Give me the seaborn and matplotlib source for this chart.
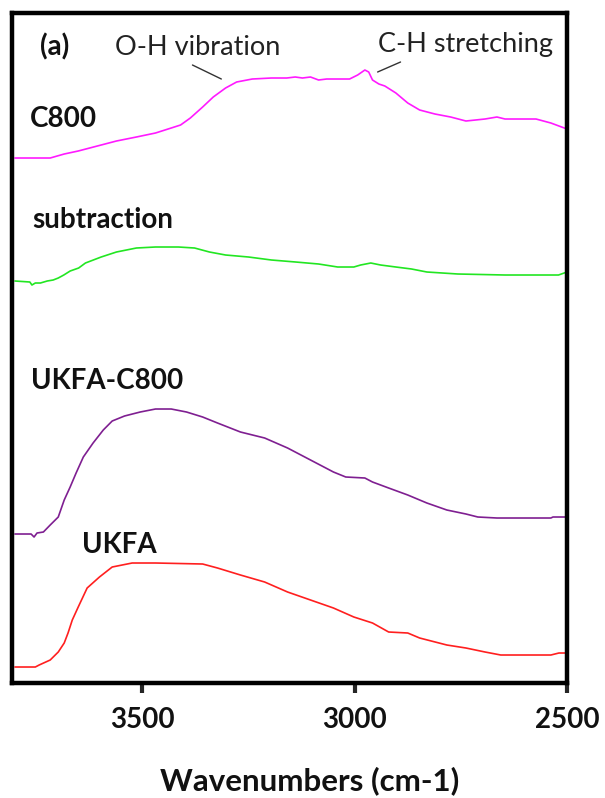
import matplotlib
matplotlib.use("Agg")
import matplotlib.pyplot as plt
import pandas as pd
import seaborn as sns

# FTIR spectra, offset stack (arbitrary units)
c800_wn = [3800, 3717, 3684, 3651, 3606, 3561, 3514, 3469, 3432, 3410, 3387, 3358,
           3333, 3304, 3278, 3241, 3196, 3160, 3140, 3123, 3104, 3085, 3066, 3040,
           3012, 2993, 2976, 2967, 2958, 2943, 2929, 2903, 2875, 2847, 2811, 2774,
           2738, 2693, 2665, 2646, 2573, 2538, 2500]
c800_ab = [5.25, 5.25, 5.29, 5.32, 5.37, 5.42, 5.46, 5.50, 5.55, 5.58, 5.65, 5.76,
           5.86, 5.95, 6.01, 6.04, 6.05, 6.05, 6.06, 6.05, 6.06, 6.03, 6.04, 6.04,
           6.04, 6.08, 6.13, 6.11, 6.03, 5.99, 5.97, 5.90, 5.80, 5.73, 5.69, 5.66,
           5.62, 5.64, 5.66, 5.64, 5.64, 5.60, 5.54]

sub_wn = [3800, 3765, 3760, 3752, 3740, 3724, 3710, 3698, 3685, 3670, 3650, 3634,
          3597, 3561, 3514, 3469, 3415, 3377, 3342, 3304, 3250, 3196, 3139, 3085,
          3040, 3002, 2986, 2962, 2939, 2903, 2866, 2830, 2757, 2646, 2520, 2500]
sub_ab = [4.02, 4.01, 3.98, 4.00, 4.00, 4.02, 4.03, 4.05, 4.08, 4.12, 4.15, 4.20,
          4.26, 4.31, 4.35, 4.36, 4.36, 4.35, 4.31, 4.28, 4.26, 4.23, 4.21, 4.19,
          4.16, 4.16, 4.18, 4.20, 4.18, 4.16, 4.14, 4.11, 4.09, 4.08, 4.08, 4.11]

ukfa_c800_wn = [3800, 3762, 3755, 3748, 3733, 3717, 3698, 3684, 3670, 3656, 3639,
                3616, 3592, 3571, 3542, 3505, 3469, 3432, 3396, 3358, 3323, 3269,
                3212, 3158, 3104, 3050, 3021, 2976, 2958, 2920, 2875, 2830, 2783,
                2738, 2710, 2665, 2538, 2533, 2500]
ukfa_c800_ab = [1.49, 1.49, 1.46, 1.50, 1.51, 1.58, 1.66, 1.83, 1.96, 2.10, 2.26,
                2.40, 2.53, 2.62, 2.67, 2.71, 2.74, 2.74, 2.71, 2.66, 2.60, 2.51,
                2.45, 2.35, 2.23, 2.11, 2.06, 2.05, 2.01, 1.95, 1.88, 1.80, 1.73,
                1.69, 1.66, 1.65, 1.65, 1.66, 1.66]

ukfa_wn = [3800, 3752, 3743, 3717, 3698, 3684, 3675, 3665, 3651, 3630, 3601, 3571,
           3524, 3469, 3358, 3323, 3269, 3212, 3158, 3104, 3050, 3002, 2958, 2920,
           2875, 2847, 2783, 2738, 2693, 2656, 2538, 2519, 2500]
ukfa_ab = [0.16, 0.16, 0.18, 0.23, 0.31, 0.40, 0.50, 0.63, 0.76, 0.95, 1.06, 1.16,
           1.20, 1.20, 1.19, 1.15, 1.08, 1.01, 0.91, 0.83, 0.75, 0.66, 0.60, 0.51,
           0.50, 0.45, 0.38, 0.35, 0.31, 0.28, 0.28, 0.30, 0.30]

sample_names = ["C800", "subtraction", "UKFA-C800", "UKFA"]
line_colors = ["#ff1aff", "#22e622", "#7f1f91", "#ff1f1f"]

sns.set_style("white")
plt.rcParams["font.family"] = ["Lato", "DejaVu Sans"]

fig = plt.figure(figsize=(6.05, 7.98), dpi=100)
ax = fig.add_axes([0.0198, 0.1441, 0.9174, 0.8396])

spectra = [(c800_wn, c800_ab), (sub_wn, sub_ab),
           (ukfa_c800_wn, ukfa_c800_ab), (ukfa_wn, ukfa_ab)]
for (wn, ab), name, col in zip(spectra, sample_names, line_colors):
    df = pd.DataFrame({"wn": wn, "ab": ab})
    sns.lineplot(data=df, x="wn", y="ab", color=col, lw=1.2, ax=ax,
                 sort=False, estimator=None)

ax.set_xlim(3807, 2500)
ax.set_ylim(0, 6.70)
ax.set_xticks([3500, 3000, 2500])
ax.set_xticklabels(["3500", "3000", "2500"], fontsize=20, fontweight="bold",
                   color="#111111")
ax.set_yticks([])
ax.set_xlabel("")
ax.set_ylabel("")
ax.tick_params(axis="x", direction="out", length=7, width=3, pad=10, bottom=True)
for sp in ax.spines.values():
    sp.set_linewidth(3.2)
    sp.set_color("black")

# sample labels
bold = dict(fontsize=20, fontweight="bold", ha="left", va="center", color="#111111")
ax.text(3742, 6.36, "(a)", **bold)
ax.text(3766, 5.64, "C800", **bold)
ax.text(3760, 4.63, "subtraction", **bold)
ax.text(3762, 3.02, "UKFA-C800", **bold)
ax.text(3641, 1.38, "UKFA", **bold)

# band annotations
ax.text(3565, 6.36, "O-H vibration", fontsize=19.5, ha="left", va="center", color="#222222")
ax.text(2946, 6.39, "C-H stretching", fontsize=19.5, ha="left", va="center", color="#222222")
ax.plot([3382, 3314], [6.18, 6.04], color="#333333", lw=1)
ax.plot([2946, 2892], [6.11, 6.21], color="#333333", lw=1)

fig.text(310 / 605, 1 - 781 / 798, "Wavenumbers (cm-1)", fontsize=22.5,
         fontweight="bold", ha="center", va="center", color="#111111")

fig.savefig("out.png", dpi=100)
